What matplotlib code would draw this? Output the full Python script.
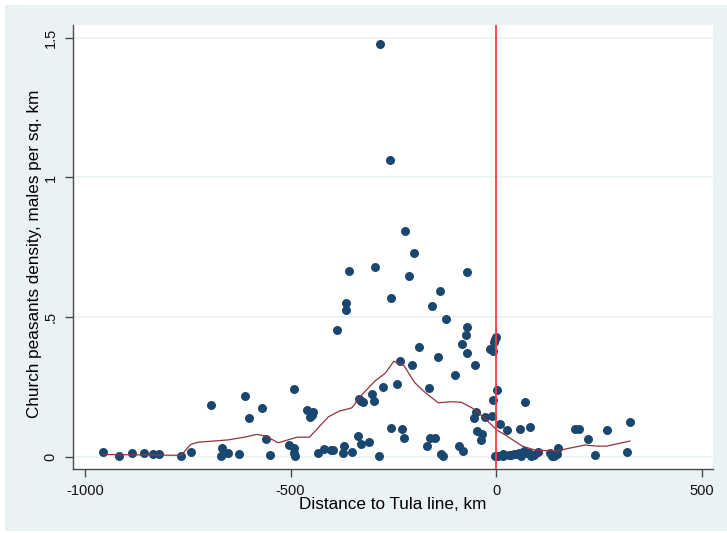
import matplotlib
matplotlib.use("Agg")
import matplotlib.pyplot as plt
from matplotlib.patches import Rectangle

# Data (distance to Tula line in km, density)
dist = [-955, -916, -886, -856, -834, -820, -766, -743, -694, -667,
        -669, -651, -625, -611, -602, -569, -559, -551, -505, -492,
        -492, -492, -489, -459, -454, -448, -445, -433, -418, -402,
        -397, -387, -371, -372, -366, -366, -359, -350, -334, -328,
        -323, -336, -328, -310, -303, -297, -294, -285, -282, -275,
        -258, -255, -255, -241, -233, -230, -225, -222, -212, -204,
        -200, -187, -169, -163, -162, -156, -150, -142, -136, -135,
        -129, -122, -100, -90, -83, -82, -74, -72, -71, -71,
        -54, -51, -49, -46, -37, -34, -27, -16, -10, -8,
        -8, -6, -3, -1, 2, -3, 9, 17, 17, 26,
        31, 43, 56, 58, 61, 68, 71, 79, 81, 84,
        101, 130, 140, 147, 151, 191, 202, 222, 241, 270,
        319, 326, 5, 37, 50, 75, 92, 135]
dens = [0.018, 0.002, 0.014, 0.014, 0.008, 0.008, 0.001, 0.018, 0.184, 0.032,
        0.002, 0.014, 0.011, 0.219, 0.139, 0.175, 0.062, 0.007, 0.043, 0.241,
        0.032, 0.014, 0.002, 0.169, 0.142, 0.151, 0.160, 0.014, 0.029, 0.024,
        0.024, 0.453, 0.038, 0.014, 0.551, 0.524, 0.666, 0.018, 0.205, 0.199,
        0.195, 0.074, 0.044, 0.054, 0.224, 0.199, 0.678, 0.002, 1.478, 0.250,
        1.061, 0.569, 0.104, 0.259, 0.344, 0.100, 0.067, 0.810, 0.646, 0.328,
        0.729, 0.392, 0.038, 0.247, 0.068, 0.541, 0.068, 0.356, 0.595, 0.008,
        0.002, 0.493, 0.292, 0.038, 0.402, 0.020, 0.437, 0.466, 0.373, 0.662,
        0.139, 0.328, 0.160, 0.092, 0.060, 0.082, 0.142, 0.384, 0.145, 0.378,
        0.203, 0.410, 0.420, 0.429, 0.238, 0.002, 0.118, 0.008, 0.002, 0.094,
        0.005, 0.008, 0.014, 0.100, 0.002, 0.020, 0.195, 0.014, 0.106, 0.002,
        0.017, 0.014, 0.002, 0.008, 0.032, 0.100, 0.100, 0.062, 0.006, 0.095,
        0.018, 0.126, 0.004, 0.006, 0.010, 0.012, 0.006, 0.004]

# lowess smoother, traced
low_x = [-955, -766, -743, -725, -653, -612, -582, -561, -530, -484,
         -454, -408, -382, -351, -326, -295, -269, -249, -225, -198,
         -172, -141, -111, -85, -59, -29, 2, 23, 63, 94,
         145, 176, 217, 243, 268, 325]
low_y = [0.008, 0.005, 0.044, 0.052, 0.060, 0.070, 0.080, 0.074, 0.050, 0.070,
         0.070, 0.143, 0.163, 0.175, 0.223, 0.271, 0.300, 0.342, 0.327, 0.265,
         0.229, 0.193, 0.197, 0.195, 0.175, 0.139, 0.095, 0.077, 0.038, 0.024,
         0.020, 0.030, 0.042, 0.038, 0.038, 0.056]

x_ticks = [-1000, -500, 0, 500]
y_ticks = [0, 0.5, 1, 1.5]
y_labels = ["0", ".5", "1", "1.5"]

W, H = 727, 533
plt.rcParams['font.family'] = ['Liberation Sans', 'DejaVu Sans']

fig = plt.figure(figsize=(W / 100, H / 100), dpi=100, facecolor="white")
# Stata-like graph region (light bluish gray), behind the axes
bg = Rectangle((5 / W, 2 / H), 722 / W, 526 / H, transform=fig.transFigure,
               facecolor="#EAF2F3", edgecolor="none", zorder=-10)
fig.add_artist(bg)

ax = fig.add_axes([73 / W, (H - 469) / H, (713 - 73) / W, (469 - 25) / H])
ax.set_facecolor("white")

for yt in y_ticks:
    ax.axhline(yt, color="#EAF2F3", lw=1.2, zorder=1)

ax.scatter(dist, dens, s=42, color="#1A476F", marker="o", linewidths=0, zorder=3)
ax.plot(low_x, low_y, color="#90353B", lw=0.9, zorder=4)
ax.axvline(0, color="#FF3838", lw=1.3, zorder=5)

ax.set_xlim(-1029, 527)
ax.set_ylim(-0.044, 1.546)

ax.set_xticks(x_ticks)
ax.set_xticklabels([str(t) for t in x_ticks])
ax.set_yticks(y_ticks)
ax.set_yticklabels(y_labels, rotation=90, va="center")

for s in ["top", "right"]:
    ax.spines[s].set_visible(False)
for s in ["left", "bottom"]:
    ax.spines[s].set_color("#4a4a4a")
    ax.spines[s].set_linewidth(1.0)

ax.tick_params(direction="out", length=6, width=1, color="#4a4a4a",
               labelsize=10.5, labelcolor="#111111", pad=5)

ax.set_xlabel("Distance to Tula line, km", fontsize=12.3)
ax.set_ylabel("Church peasants density, males per sq. km", fontsize=12.3)
ax.xaxis.set_label_coords(0.50, -0.063)
ax.yaxis.set_label_coords(-0.048, 0.485)

fig.savefig("out.png", dpi=100, facecolor=fig.get_facecolor())
